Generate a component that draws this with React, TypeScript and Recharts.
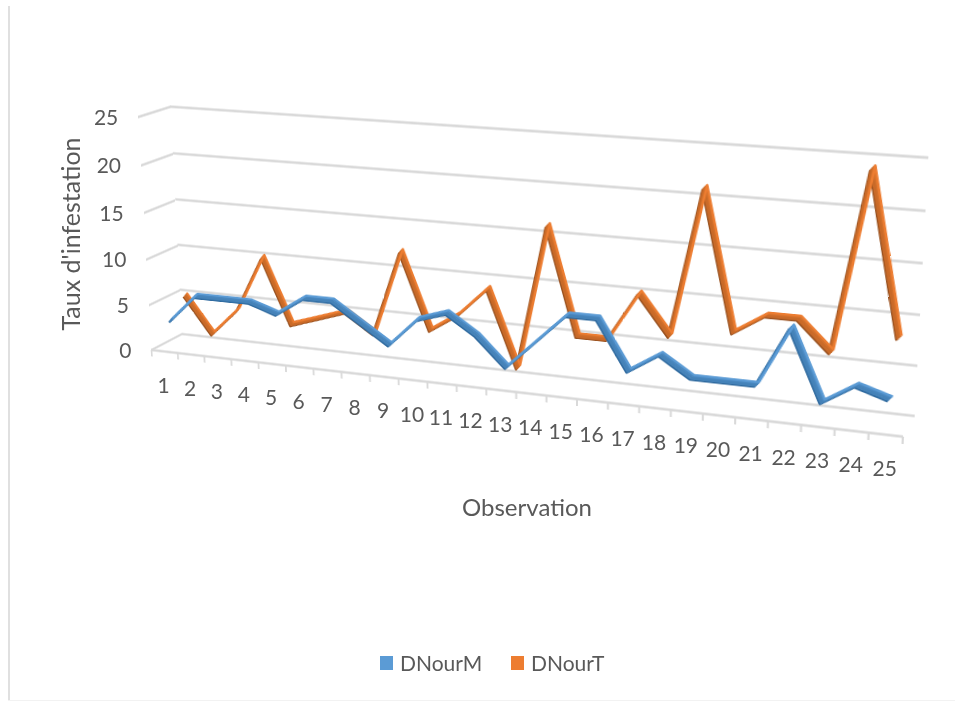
import { LineChart, Line, XAxis, YAxis, ReferenceLine, Legend } from 'recharts';

const OBSERVATIONS = [1, 2, 3, 4, 5, 6, 7, 8, 9, 10, 11, 12, 13, 14, 15, 16, 17, 18, 19, 20, 21, 22, 23, 24, 25];
const D_NOUR_M = [3, 6, 6, 6, 5, 7, 7, 5, 3, 6, 7, 5, 2, 5, 8, 8, 3, 5, 3, 3, 3, 9, 2, 4, 3];
const D_NOUR_T = [5, 1, 4, 10, 3, 4, 5, 3, 12, 4, 6, 9, 1, 16, 5, 5, 10, 6, 21, 7, 9, 9, 6, 24, 8];
const Y_TICKS = [0, 5, 10, 15, 20, 25];
const BAND_EDGES = [0.5, 1.5, 2.5, 3.5, 4.5, 5.5, 6.5, 7.5, 8.5, 9.5, 10.5, 11.5, 12.5, 13.5, 14.5, 15.5, 16.5, 17.5, 18.5, 19.5, 20.5, 21.5, 22.5, 23.5, 24.5, 25.5];

const rows = OBSERVATIONS.map((obs, i) => ({ obs, DNourM: D_NOUR_M[i], DNourT: D_NOUR_T[i] }));

const W = 800;
const H = 300;
const M = 10;
const X_DOMAIN: [number, number] = [0.5, 25.5];
const Y_DOMAIN: [number, number] = [0, 25];
const GRID = '#d9d9d9';
const TEXT = '#595959';
const FONT = 'Lato, sans-serif';

type P = [number, number];
type Quad = [P, P, P, P]; // top-left, top-right, bottom-right, bottom-left

// box corners of the 3D chart, measured on the picture
const BACK: Quad = [[170.7, 106.7], [928.3, 157.7], [914.7, 416], [182, 334]];
const FRONT: Quad = [[138.3, 117], [917, 171], [903, 436.7], [151.5, 350]];
const LEFT_WALL: Quad = [FRONT[0], BACK[0], BACK[3], FRONT[3]];

const mix = (a: P, b: P, t: number): P => [a[0] + (b[0] - a[0]) * t, a[1] + (b[1] - a[1]) * t];
const depthPlane = (t: number) => FRONT.map((p, i) => mix(p, BACK[i], t)) as Quad;

// unit square -> quad
function homography([p0, p1, p2, p3]: Quad) {
  const dx1 = p1[0] - p2[0];
  const dx2 = p3[0] - p2[0];
  const sx = p0[0] - p1[0] + p2[0] - p3[0];
  const dy1 = p1[1] - p2[1];
  const dy2 = p3[1] - p2[1];
  const sy = p0[1] - p1[1] + p2[1] - p3[1];
  const det = dx1 * dy2 - dx2 * dy1;
  const g = (sx * dy2 - dx2 * sy) / det;
  const h = (dx1 * sy - sx * dy1) / det;
  return {
    a: p1[0] - p0[0] + g * p1[0],
    b: p3[0] - p0[0] + h * p3[0],
    c: p0[0],
    d: p1[1] - p0[1] + g * p1[1],
    e: p3[1] - p0[1] + h * p3[1],
    f: p0[1],
    g,
    h,
  };
}

function warp(quad: Quad) {
  const { a, b, c, d, e, f, g, h } = homography(quad);
  const pw = W - 2 * M;
  const ph = H - 2 * M;
  const k = M / pw;
  const l = M / ph;
  const m = [
    a / pw, d / pw, 0, g / pw,
    b / ph, e / ph, 0, h / ph,
    0, 0, 1, 0,
    c - a * k - b * l, f - d * k - e * l, 0, 1 - g * k - h * l,
  ];
  return `matrix3d(${m.join(',')})`;
}

function project(quad: Quad, u: number, v: number): P {
  const { a, b, c, d, e, f, g, h } = homography(quad);
  const w = g * u + h * v + 1;
  return [(a * u + b * v + c) / w, (d * u + e * v + f) / w];
}

function Plane({ quad, children }: { quad: Quad; children: React.ReactNode }) {
  return (
    <div style={{ position: 'absolute', left: 0, top: 0, width: W, height: H, transformOrigin: '0 0', transform: warp(quad) }}>
      <LineChart width={W} height={H} data={rows} margin={{ top: M, right: M, bottom: M, left: M }}>
        <XAxis type="number" dataKey="obs" domain={X_DOMAIN} hide />
        <YAxis type="number" domain={Y_DOMAIN} allowDataOverflow hide />
        {children}
      </LineChart>
    </div>
  );
}

// the 3D ribbon is several copies of the line, swept along the depth direction
const RIBBON = [
  { cls: 'r0', shift: [-2.2, 2.9] },
  { cls: 'r1', shift: [-1.1, 1.45] },
  { cls: 'r2', shift: [0, 0] },
  { cls: 'r3', shift: [1.1, -1.45] },
  { cls: 'r4', shift: [2.2, -2.9] },
];
const RIBBON_CSS = RIBBON.map((r) => `.${r.cls}{transform:translate(${r.shift[0]}px,${r.shift[1]}px)}`).join('');

function ribbon(dataKey: string, shades: string[]) {
  return RIBBON.map((r, i) => (
    <Line
      key={r.cls}
      className={r.cls}
      dataKey={dataKey}
      stroke={shades[i]}
      strokeWidth={2.4}
      strokeLinejoin="round"
      dot={false}
      isAnimationActive={false}
    />
  ));
}

const noLabel = () => <g />;

const renderXTick = ({ payload }: any) => {
  const [x, y] = project(FRONT, (payload.value - 0.5) / 25, 1);
  return (
    <text x={x - 1} y={y + 33} textAnchor="middle" dominantBaseline="central" fontSize={21} fontFamily={FONT} fill={TEXT}>
      {payload.value}
    </text>
  );
};

const renderYTick = ({ payload }: any) => {
  const [x, y] = project(LEFT_WALL, 0, 1 - payload.value / 25);
  return (
    <text x={x - 20} y={y - 1} textAnchor="end" dominantBaseline="central" fontSize={21} fontFamily={FONT} fill={TEXT}>
      {payload.value}
    </text>
  );
};

const renderLegend = () => (
  <div style={{ display: 'flex', justifyContent: 'flex-start', marginLeft: 380, fontFamily: FONT, fontSize: 21, color: TEXT }}>
    <span style={{ display: 'flex', alignItems: 'center', width: 131 }}>
      <span style={{ width: 13, height: 14, background: '#5b9bd5', marginRight: 7 }} />
      DNourM
    </span>
    <span style={{ display: 'flex', alignItems: 'center' }}>
      <span style={{ width: 13, height: 14, background: '#ed7d31', marginRight: 7 }} />
      DNourT
    </span>
  </div>
);

export default function App() {
  return (
    <div style={{ position: 'absolute', left: 0, top: 0, width: 955, height: 702, overflow: 'hidden', background: '#fff' }}>
      <style>{RIBBON_CSS}</style>
      <div style={{ position: 'absolute', left: 8, top: 6, width: 2, height: 694, background: '#e0e0e0' }} />
      <div style={{ position: 'absolute', left: 8, top: 700, width: 947, height: 1, background: '#f2f2f2' }} />

      <Plane quad={LEFT_WALL}>
        {Y_TICKS.map((v) => (
          <ReferenceLine key={v} y={v} stroke={GRID} strokeWidth={2.8} />
        ))}
      </Plane>
      <Plane quad={BACK}>
        {Y_TICKS.map((v) => (
          <ReferenceLine key={v} y={v} stroke={GRID} strokeWidth={2.8} />
        ))}
      </Plane>
      <div style={{ position: 'absolute', left: 0, top: 0, width: W, height: H, transformOrigin: '0 0', transform: warp(FRONT) }}>
        <LineChart width={W} height={H} data={rows} margin={{ top: M, right: M, bottom: 0, left: M }}>
          <XAxis
            type="number"
            dataKey="obs"
            domain={X_DOMAIN}
            ticks={BAND_EDGES}
            interval={0}
            height={M}
            tick={noLabel}
            tickSize={8}
            tickLine={{ stroke: GRID, strokeWidth: 2 }}
            axisLine={{ stroke: GRID, strokeWidth: 2.8 }}
          />
          <YAxis type="number" domain={Y_DOMAIN} allowDataOverflow hide />
        </LineChart>
      </div>

      <Plane quad={depthPlane(0.75)}>{ribbon('DNourT', ['#9a5220', '#c96a28', '#c96a28', '#d2702b', '#ed7d31'])}</Plane>
      <Plane quad={depthPlane(0.25)}>{ribbon('DNourM', ['#2f6a9f', '#4582b8', '#4582b8', '#4a88c0', '#5b9bd5'])}</Plane>

      <div style={{ position: 'absolute', left: 0, top: 0 }}>
        <LineChart width={955} height={702} data={rows} margin={{ top: 0, right: 0, bottom: 0, left: 0 }}>
          <XAxis
            type="number"
            dataKey="obs"
            domain={X_DOMAIN}
            ticks={OBSERVATIONS}
            interval={0}
            tick={renderXTick}
            axisLine={false}
            tickLine={false}
          />
          <YAxis
            type="number"
            domain={Y_DOMAIN}
            allowDataOverflow
            ticks={Y_TICKS}
            interval={0}
            width={1}
            tick={renderYTick}
            axisLine={false}
            tickLine={false}
          />
          <text x={527} y={506} textAnchor="middle" dominantBaseline="central" fontSize={24} fontFamily={FONT} fill={TEXT}>
            Observation
          </text>
          <text
            x={70}
            y={234}
            transform="rotate(-90 70 234)"
            textAnchor="middle"
            dominantBaseline="central"
            fontSize={25}
            fontFamily={FONT}
            fill={TEXT}
          >
            Taux d'infestation
          </text>
          <Legend
            content={renderLegend}
            wrapperStyle={{ position: 'absolute', left: 0, top: 650, width: 955, height: 24, bottom: 'auto' }}
          />
        </LineChart>
      </div>
    </div>
  );
}
